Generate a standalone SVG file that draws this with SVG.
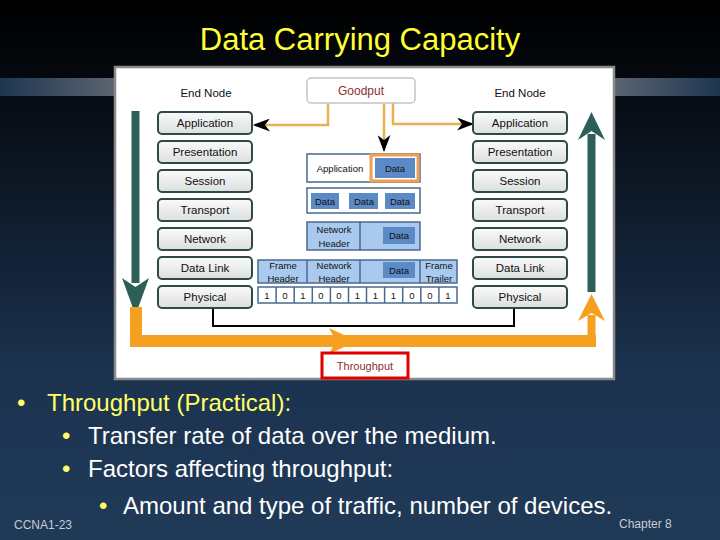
<svg xmlns="http://www.w3.org/2000/svg" width="720" height="540" viewBox="0 0 720 540">
<defs>
<linearGradient id="bg" x1="0" y1="0" x2="0" y2="1">
<stop offset="0" stop-color="#000000"/>
<stop offset="0.12" stop-color="#04070c"/>
<stop offset="0.7" stop-color="#1c3350"/>
<stop offset="1" stop-color="#1f3a57"/>
</linearGradient>
<linearGradient id="barL" x1="0" y1="0" x2="1" y2="0">
<stop offset="0" stop-color="#1e3550"/>
<stop offset="1" stop-color="#5c6572"/>
</linearGradient>
<linearGradient id="barR" x1="0" y1="0" x2="1" y2="0">
<stop offset="0" stop-color="#5c6572"/>
<stop offset="1" stop-color="#1e3550"/>
</linearGradient>
<linearGradient id="btn" x1="0" y1="0" x2="0" y2="1">
<stop offset="0" stop-color="#fafafa"/>
<stop offset="1" stop-color="#dcdfdf"/>
</linearGradient>
<marker id="ah" markerUnits="userSpaceOnUse" markerWidth="17" markerHeight="13" refX="16" refY="6.5" orient="auto">
<path d="M0,0 L17,6.5 L0,13 L5,6.5 Z" fill="#000"/>
</marker>
<style>
.osi{fill:url(#btn);stroke:#2f4a45;stroke-width:2}
.t{font-family:"Liberation Sans",Arial,sans-serif;fill:#111;text-anchor:middle}
.l11{font-size:11.5px}
.s9{font-size:9.5px}
.dk{fill:#5b8ac6;stroke:none}
.lb{fill:#a9c9ee;stroke:#4a6a90;stroke-width:1.5}
.wh{fill:#fff;stroke:#4a6a90;stroke-width:1.5}
.or{fill:#f5a020}
.gr{fill:#2b5f58}
.gl{fill:none;stroke:#e8b050;stroke-width:2.5}
.body{font-family:"Liberation Sans",Arial,sans-serif;font-size:24px}
</style>
</defs>
<rect x="0" y="0" width="720" height="540" fill="url(#bg)"/>
<rect x="0" y="78" width="116" height="18" fill="url(#barL)"/>
<rect x="613" y="78" width="107" height="18" fill="url(#barR)"/>

<text x="361" y="51" font-family="Liberation Sans,Arial,sans-serif" font-size="31" text-anchor="middle" fill="#000" opacity="0.6">Data Carrying Capacity</text>
<text x="360" y="50" font-family="Liberation Sans,Arial,sans-serif" font-size="31" text-anchor="middle" fill="#ffff33">Data Carrying Capacity</text>

<rect x="115" y="67" width="499" height="312" fill="#ffffff" stroke="#8a8a8a" stroke-width="2.5"/>

<g id="arrows-big">
<rect class="gr" x="131.5" y="111" width="8" height="172"/>
<polygon class="gr" points="122,278 135.5,287 149,278 135.5,315"/>
<rect class="gr" x="587.5" y="134" width="8" height="158"/>
<polygon class="gr" points="578,140 591.5,131 605,140 591.5,112"/>
<rect class="or" x="130" y="307" width="12" height="40"/>
<rect class="or" x="130" y="335" width="466" height="12"/>
<polygon class="or" points="329,328 357,341 329,354 336,341"/>
<rect class="or" x="587.5" y="315" width="8" height="32"/>
<polygon class="or" points="578,321 591.5,313 605,321 591.5,294"/>
</g>

<g id="connectors">
<path d="M213,308 V326 H514 V308" fill="none" stroke="#000" stroke-width="2"/>
<path class="gl" d="M328,103 V125 H254" marker-end="url(#ah)"/>
<path class="gl" d="M393,103 V124 H473" marker-end="url(#ah)"/>
<path class="gl" d="M384,103 V151" marker-end="url(#ah)"/>
</g>

<g id="goodput">
<rect x="307" y="78" width="108" height="25" rx="4" fill="#fff" stroke="#c4c4c4" stroke-width="1.5"/>
<text class="t" x="361" y="95" font-size="12" style="fill:#8b3030">Goodput</text>
</g>

<g id="end-node-left">
<text class="t l11" x="206" y="97">End Node</text>
<rect class="osi" x="158" y="112" width="94" height="22" rx="4"/><text class="t l11" x="205" y="127">Application</text>
<rect class="osi" x="158" y="141" width="94" height="22" rx="4"/><text class="t l11" x="205" y="156">Presentation</text>
<rect class="osi" x="158" y="170" width="94" height="22" rx="4"/><text class="t l11" x="205" y="185">Session</text>
<rect class="osi" x="158" y="199" width="94" height="22" rx="4"/><text class="t l11" x="205" y="214">Transport</text>
<rect class="osi" x="158" y="228" width="94" height="22" rx="4"/><text class="t l11" x="205" y="243">Network</text>
<rect class="osi" x="158" y="257" width="94" height="22" rx="4"/><text class="t l11" x="205" y="272">Data Link</text>
<rect class="osi" x="158" y="286" width="94" height="22" rx="4"/><text class="t l11" x="205" y="301">Physical</text>
</g>

<g id="end-node-right">
<text class="t l11" x="520" y="97">End Node</text>
<rect class="osi" x="473" y="112" width="94" height="22" rx="4"/><text class="t l11" x="520" y="127">Application</text>
<rect class="osi" x="473" y="141" width="94" height="22" rx="4"/><text class="t l11" x="520" y="156">Presentation</text>
<rect class="osi" x="473" y="170" width="94" height="22" rx="4"/><text class="t l11" x="520" y="185">Session</text>
<rect class="osi" x="473" y="199" width="94" height="22" rx="4"/><text class="t l11" x="520" y="214">Transport</text>
<rect class="osi" x="473" y="228" width="94" height="22" rx="4"/><text class="t l11" x="520" y="243">Network</text>
<rect class="osi" x="473" y="257" width="94" height="22" rx="4"/><text class="t l11" x="520" y="272">Data Link</text>
<rect class="osi" x="473" y="286" width="94" height="22" rx="4"/><text class="t l11" x="520" y="301">Physical</text>
</g>

<g id="row-application">
<rect class="wh" x="307" y="154" width="113" height="28"/>
<text class="t s9" x="340" y="172">Application</text>
<rect x="371" y="155" width="47" height="26" fill="none" stroke="#f0a050" stroke-width="3"/>
<rect class="dk" x="375" y="158" width="40" height="20"/>
<text class="t s9" x="395" y="172">Data</text>
</g>

<g id="row-segments">
<rect class="wh" x="307" y="188" width="113" height="25"/>
<rect class="dk" x="311" y="193" width="28" height="16"/><text class="t s9" x="325" y="205">Data</text>
<rect class="dk" x="349" y="193" width="29" height="16"/><text class="t s9" x="364" y="205">Data</text>
<rect class="dk" x="385" y="193" width="30" height="16"/><text class="t s9" x="400" y="205">Data</text>
</g>

<g id="row-packet">
<rect class="lb" x="307" y="222" width="113" height="28"/>
<line x1="360" y1="222" x2="360" y2="250" stroke="#4a6a90" stroke-width="1.5"/>
<text class="t s9" x="334" y="233">Network</text>
<text class="t s9" x="334" y="247">Header</text>
<rect class="dk" x="383" y="227" width="32" height="17"/><text class="t s9" x="399" y="239">Data</text>
</g>

<g id="row-frame">
<rect class="lb" x="258" y="260" width="199" height="23"/>
<line x1="307" y1="260" x2="307" y2="283" stroke="#4a6a90" stroke-width="1.5"/>
<line x1="360" y1="260" x2="360" y2="283" stroke="#4a6a90" stroke-width="1.5"/>
<line x1="420" y1="260" x2="420" y2="283" stroke="#4a6a90" stroke-width="1.5"/>
<text class="t s9" x="283" y="269">Frame</text><text class="t s9" x="283" y="282">Header</text>
<text class="t s9" x="334" y="269">Network</text><text class="t s9" x="334" y="282">Header</text>
<rect class="dk" x="383" y="262" width="32" height="16"/><text class="t s9" x="399" y="274">Data</text>
<text class="t s9" x="439" y="269">Frame</text><text class="t s9" x="439" y="282">Trailer</text>
</g>

<g id="row-bits">
<rect class="wh" x="258" y="287" width="199" height="16"/>
<g stroke="#4a6a90" stroke-width="1.5">
<line x1="276.1" y1="287" x2="276.1" y2="303"/><line x1="294.2" y1="287" x2="294.2" y2="303"/>
<line x1="312.3" y1="287" x2="312.3" y2="303"/><line x1="330.4" y1="287" x2="330.4" y2="303"/>
<line x1="348.5" y1="287" x2="348.5" y2="303"/><line x1="366.5" y1="287" x2="366.5" y2="303"/>
<line x1="384.6" y1="287" x2="384.6" y2="303"/><line x1="402.7" y1="287" x2="402.7" y2="303"/>
<line x1="420.8" y1="287" x2="420.8" y2="303"/><line x1="438.9" y1="287" x2="438.9" y2="303"/>
</g>
<text class="t s9" x="267" y="299">1</text><text class="t s9" x="285" y="299">0</text>
<text class="t s9" x="303" y="299">1</text><text class="t s9" x="321" y="299">0</text>
<text class="t s9" x="339" y="299">0</text><text class="t s9" x="357.5" y="299">1</text>
<text class="t s9" x="375.5" y="299">1</text><text class="t s9" x="393.5" y="299">1</text>
<text class="t s9" x="412" y="299">0</text><text class="t s9" x="430" y="299">0</text>
<text class="t s9" x="448" y="299">1</text>
</g>

<g id="throughput">
<rect x="322" y="353" width="86" height="25" fill="#fff" stroke="#e00000" stroke-width="3"/>
<text class="t" x="365" y="370" font-size="11" style="fill:#8b3030">Throughput</text>
</g>

<g id="bullets">
<text class="body" x="17" y="411" fill="#ffff66">•</text>
<text class="body" x="47" y="411" fill="#ffff66">Throughput (Practical):</text>
<text class="body" x="62" y="444" fill="#ffff66" font-size="17">•</text>
<text class="body" x="88" y="444" fill="#ffffff">Transfer rate of data over the medium.</text>
<text class="body" x="62" y="477" fill="#ffff66" font-size="17">•</text>
<text class="body" x="88" y="477" fill="#ffffff">Factors affecting throughput:</text>
<text class="body" x="99" y="514" fill="#ffff66" font-size="17">•</text>
<text class="body" x="123" y="514" fill="#ffffff">Amount and type of traffic, number of devices.</text>
</g>
<text x="14" y="529" font-family="Liberation Sans,Arial,sans-serif" font-size="12" fill="#c8ccd4">CCNA1-23</text>
<text x="619" y="528" font-family="Liberation Sans,Arial,sans-serif" font-size="12" fill="#c8ccd4">Chapter 8</text>
</svg>
